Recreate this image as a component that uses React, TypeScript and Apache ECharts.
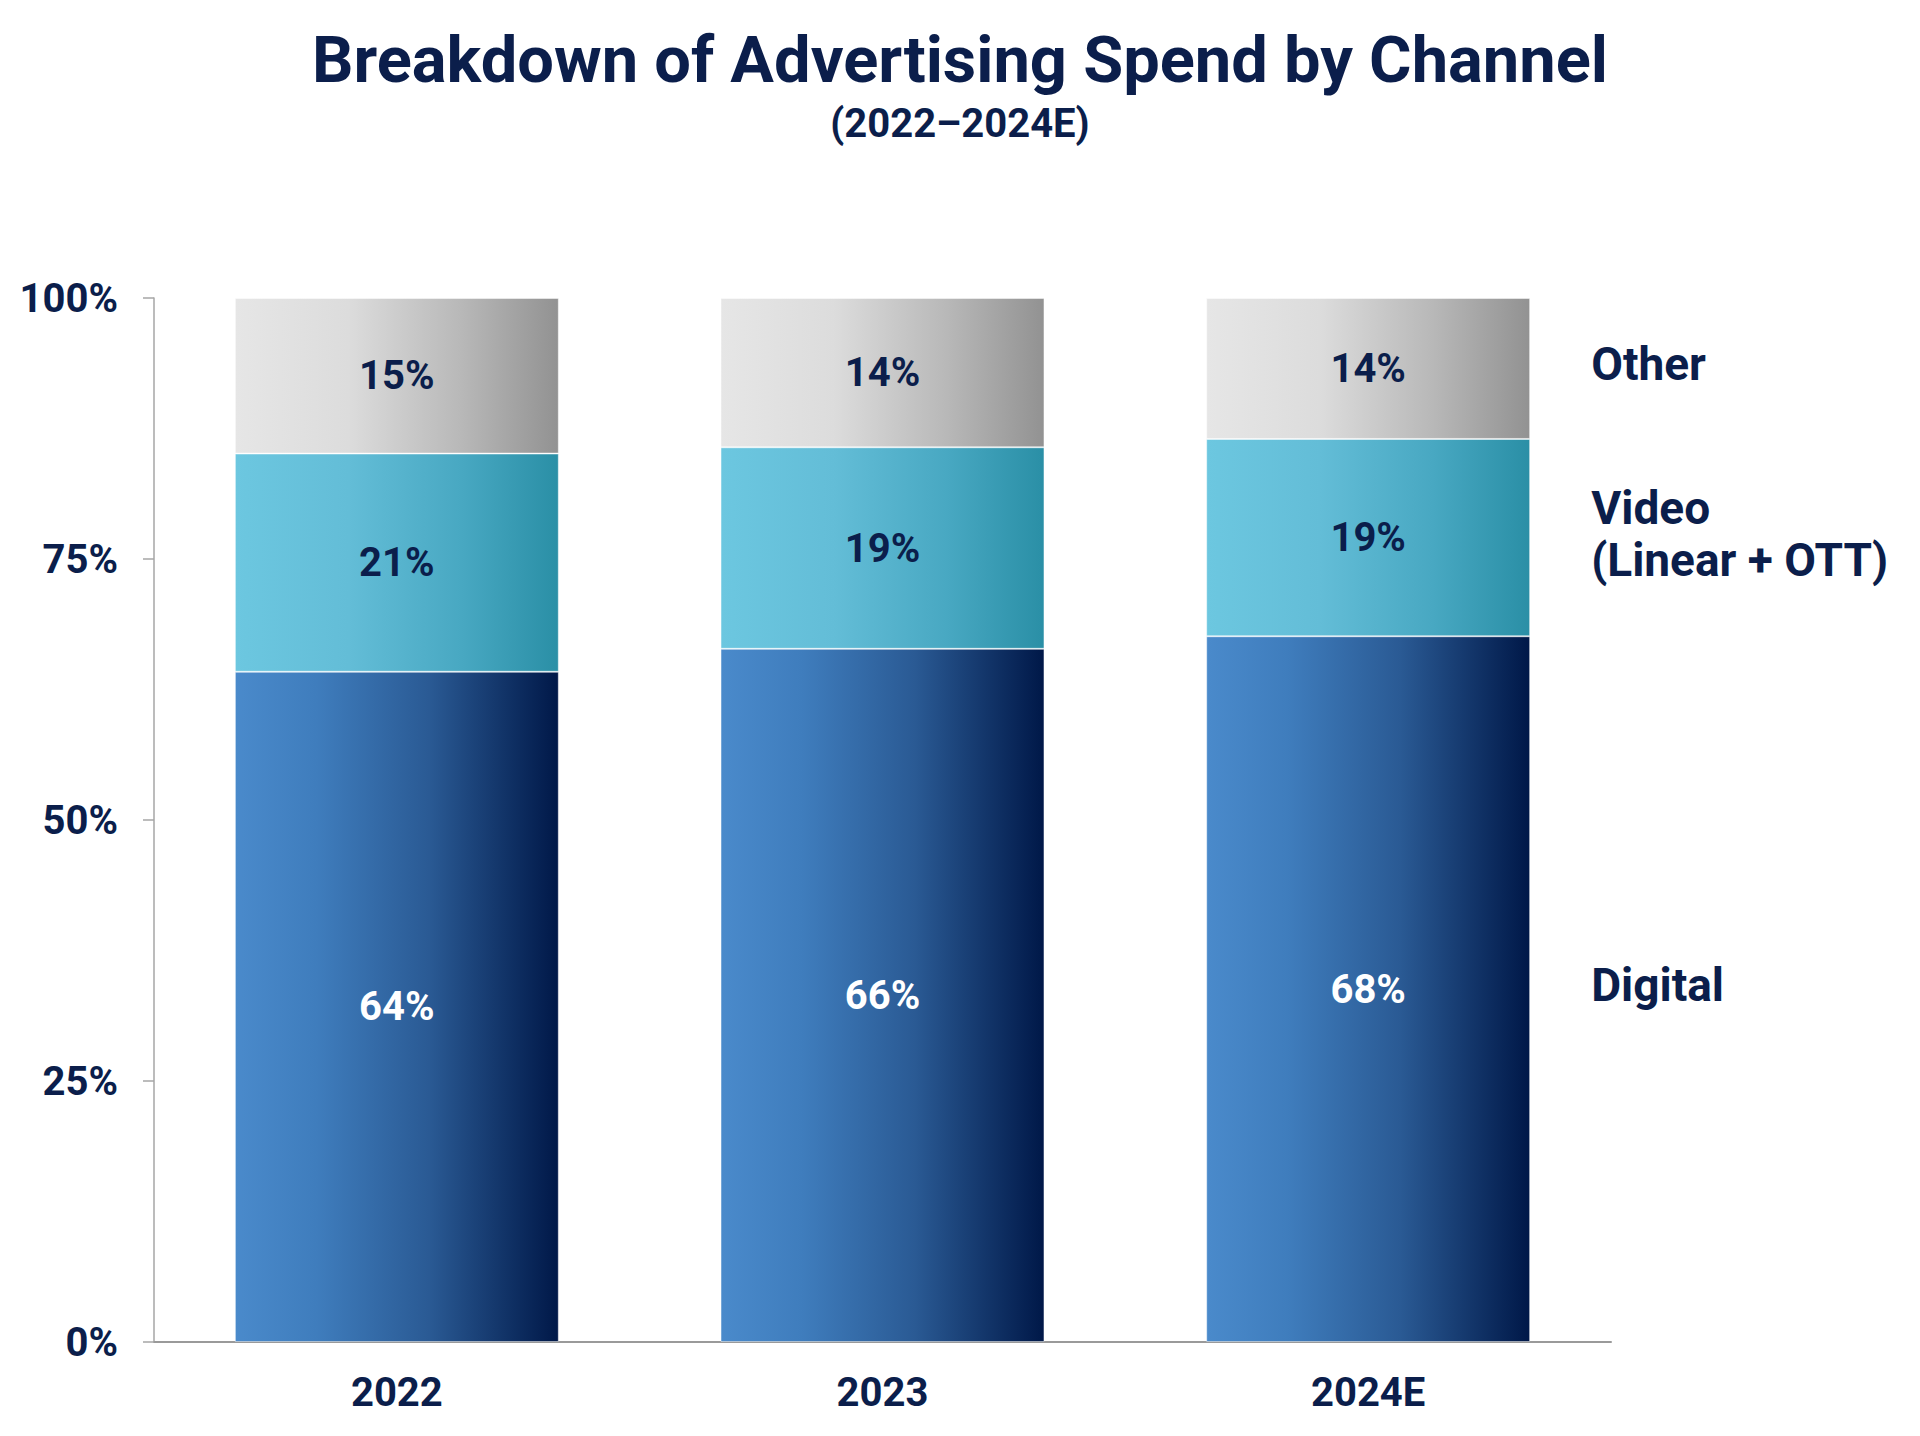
import React, { useEffect, useRef } from "react";
import * as echarts from "echarts";

const categories = ["2022", "2023", "2024E"];
const seriesNames = ["Digital", "Video\n(Linear + OTT)", "Other"];
const digitalValues = [64.2, 66.4, 67.6];
const videoValues = [20.9, 19.3, 18.9];
const otherValues = [14.9, 14.3, 13.5];
const yTicks = [0, 25, 50, 75, 100];

const NAVY = "#0b1e4b";
const FONT = "Roboto";

function grad(stops: [number, string][]) {
  return new echarts.graphic.LinearGradient(
    0,
    0,
    1,
    0,
    stops.map(([offset, color]) => ({ offset, color }))
  );
}

export default function App() {
  const ref = useRef<HTMLDivElement>(null);

  useEffect(() => {
    document.body.style.margin = "0";
    if (!ref.current) return;
    const chart = echarts.init(ref.current, null, { renderer: "svg" });

    const allValues = [digitalValues, videoValues, otherValues];
    const lastIdx = categories.length - 1;
    const mids: number[] = [];
    let cum = 0;
    allValues.forEach((vals) => {
      mids.push(cum + vals[lastIdx] / 2);
      cum += vals[lastIdx];
    });

    const colors = [
      grad([
        [0, "#4a8acb"],
        [0.25, "#3f7dbd"],
        [0.6, "#2a5a94"],
        [1, "#001848"],
      ]),
      grad([
        [0, "#6cc7e0"],
        [0.35, "#63bdd7"],
        [0.7, "#48a8c2"],
        [1, "#2a8fa6"],
      ]),
      grad([
        [0, "#e6e6e6"],
        [0.35, "#dcdcdc"],
        [0.7, "#b8b8b8"],
        [1, "#929292"],
      ]),
    ];
    const labelColors = ["#ffffff", NAVY, NAVY];

    const barSeries = allValues.map((vals, i) => ({
      name: seriesNames[i],
      type: "bar",
      stack: "total",
      barWidth: "66.7%",
      data: vals,
      itemStyle: { color: colors[i], borderColor: "rgba(255,255,255,0.45)", borderWidth: 1 },
      label: {
        show: true,
        position: "inside",
        formatter: (p: any) => Math.round(p.value) + "%",
        color: labelColors[i],
        fontSize: 40,
        fontWeight: "bold",
        fontFamily: FONT,
      },
      silent: true,
    }));

    const nameSeries = {
      type: "scatter",
      symbolSize: 0,
      silent: true,
      itemStyle: { opacity: 1 },
      data: mids.map((m, i) => ({
        value: [categories[lastIdx], m],
        name: seriesNames[i],
      })),
      label: {
        show: true,
        position: "right",
        distance: 223,
        offset: [0, -4],
        align: "left",
        formatter: (p: any) => p.name,
        color: NAVY,
        opacity: 1,
        fontSize: 46,
        lineHeight: 52,
        fontWeight: "bold",
        fontFamily: FONT,
      },
    };

    chart.setOption({
      animation: false,
      backgroundColor: "#ffffff",
      title: [
        {
          text: "Breakdown of Advertising Spend by Channel",
          left: "center",
          top: 22,
          textStyle: {
            fontSize: 65,
            fontWeight: "bold",
            fontFamily: FONT,
            color: NAVY,
          },
        },
        {
          text: "(2022\u20132024E)",
          left: "center",
          top: 98,
          textStyle: {
            fontSize: 40,
            fontWeight: "bold",
            fontFamily: FONT,
            color: NAVY,
          },
        },
      ],
      grid: { left: 154, right: 309, top: 298, bottom: 94 },
      xAxis: {
        type: "category",
        data: categories,
        axisLine: { show: true, lineStyle: { color: "#9a9a9a", width: 2 } },
        axisTick: { show: false },
        axisLabel: {
          margin: 30,
          fontSize: 40,
          fontWeight: "bold",
          fontFamily: FONT,
          color: NAVY,
        },
      },
      yAxis: {
        type: "value",
        min: yTicks[0],
        max: yTicks[yTicks.length - 1],
        interval: yTicks[1] - yTicks[0],
        axisLine: { show: true, lineStyle: { color: "#a6a6a6", width: 1.5 } },
        axisTick: { show: true, length: 11, lineStyle: { color: "#a6a6a6", width: 1.5 } },
        splitLine: { show: false },
        axisLabel: {
          margin: 36,
          formatter: "{value}%",
          fontSize: 40,
          fontWeight: "bold",
          fontFamily: FONT,
          color: NAVY,
        },
      },
      series: [...barSeries, nameSeries],
    });

    return () => chart.dispose();
  }, []);

  return <div ref={ref} style={{ width: 1920, height: 1436 }} />;
}
